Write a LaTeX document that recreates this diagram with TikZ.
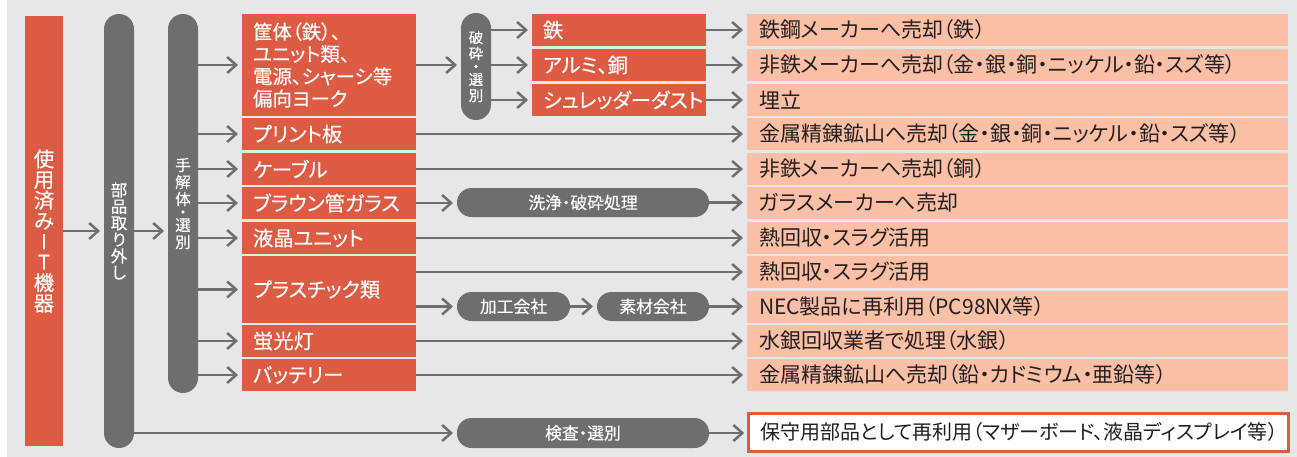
\documentclass[tikz,border=0pt]{standalone}
\usepackage{fontspec}
\setmainfont{Noto Sans CJK JP}[RawFeature=+palt]
\newfontfamily\medfont{Noto Sans CJK JP}[RawFeature=+palt, FakeBold=0.35]
\usetikzlibrary{arrows.meta}
\definecolor{bgc}{HTML}{E6E7E8}
\definecolor{rboxc}{HTML}{DE5B43}
\definecolor{pboxc}{HTML}{FBBFA5}
\definecolor{gpillc}{HTML}{6D6E71}
\definecolor{dtextc}{HTML}{231F20}
\begin{document}
\begin{tikzpicture}[x=1pt,y=-1pt,
  redbox/.style={fill=rboxc, text=white, anchor=north west, inner xsep=11pt, inner ysep=0pt, outer sep=0pt, text width=152pt, align=left, minimum height=32pt, font=\medfont\fontsize{20.3}{22.3}\selectfont},
  peachbox/.style={fill=pboxc, text=dtextc, anchor=north west, inner xsep=12pt, inner ysep=0pt, outer sep=0pt, text width=517pt, align=left, minimum height=32pt, font=\fontsize{21}{22}\selectfont},
  vpill/.style={fill=gpillc, text=white, anchor=north west, rounded corners=15pt, minimum width=30pt, inner sep=0pt, outer sep=0pt, align=center},
  hpill/.style={fill=gpillc, text=white, anchor=north west, rounded corners=14.5pt, minimum height=29pt, inner sep=0pt, outer sep=0pt, font=\medfont\fontsize{16.8}{18}\selectfont},
  arr/.style={draw=gpillc, line width=2.5pt, -{Straight Barb[length=9pt,width=16pt]}, shorten >=4pt},
]
\useasboundingbox (0,0) rectangle (1297,457);
\fill[white] (0,0) rectangle (1297,457);
\fill[bgc] (7,0) rectangle (1297,457);

% left column
\node[fill=rboxc, text=white, anchor=north west, minimum width=38pt, minimum height=430pt, inner sep=0pt, outer sep=0pt, align=center, font=\medfont\fontsize{20.5}{20.6}\selectfont] (it) at (25,16) {使\\用\\済\\み\\I\\T\\機\\器};
\node[vpill, minimum height=434pt, font=\medfont\fontsize{16.5}{16.5}\selectfont] (p2) at (104,14) {部\\品\\取\\り\\外\\し};
\node[vpill, minimum height=379pt, font=\medfont\fontsize{15.5}{17}\selectfont] (p3) at (168,14) {手\\解\\体\\[-4pt]・\\[-4pt]選\\別};

% red boxes
\node[redbox, minimum height=102pt, font=\medfont\fontsize{19.5}{22.3}\selectfont] (kyou) at (242,14) {筐体（鉄）、\\ユニット類、\\電源、シャーシ等\\偏向ヨーク};
\node[redbox] (print) at (242,118) {プリント板};
\node[redbox] (cable) at (242,153) {ケーブル};
\node[redbox] (braun) at (242,187) {ブラウン管ガラス};
\node[redbox] (lcd) at (242,222) {液晶ユニット};
\node[redbox, minimum height=67pt] (plastic) at (242,256) {プラスチック類};
\node[redbox] (fluor) at (242,325) {蛍光灯};
\node[redbox] (battery) at (242,359) {バッテリー};

% crushing
\node[vpill, minimum height=107pt, font=\medfont\fontsize{14.5}{16}\selectfont] (crush) at (461,13) {破\\砕\\[-3pt]・\\[-3pt]選\\別};
\node[redbox] (tetsu) at (532,14) {鉄};
\node[redbox] (alumi) at (532,49) {アルミ、銅};
\node[redbox] (shred) at (532,84) {シュレッダーダスト};

% intermediate pills
\node[hpill, minimum width=252pt] (wash) at (457,188) {洗浄・破砕処理};
\node[hpill, minimum width=113pt] (kakou) at (457,292) {加工会社};
\node[hpill, minimum width=112pt] (sozai) at (597,292) {素材会社};
\node[hpill, minimum width=252pt, minimum height=30pt] (kensa) at (457,418) {検査・選別};

% outputs
\node[peachbox] (o1) at (747,14) {鉄鋼メーカーへ売却（鉄）};
\node[peachbox] (o2) at (747,49) {非鉄メーカーへ売却（金・銀・銅・ニッケル・鉛・スズ等）};
\node[peachbox] (o3) at (747,84) {埋立};
\node[peachbox] (o4) at (747,118) {金属精錬鉱山へ売却（金・銀・銅・ニッケル・鉛・スズ等）};
\node[peachbox] (o5) at (747,153) {非鉄メーカーへ売却（銅）};
\node[peachbox] (o6) at (747,187) {ガラスメーカーへ売却};
\node[peachbox] (o7) at (747,222) {熱回収・スラグ活用};
\node[peachbox] (o8) at (747,256) {熱回収・スラグ活用};
\node[peachbox] (o9) at (747,291) {NEC製品に再利用（PC98NX等）};
\node[peachbox] (o10) at (747,325) {水銀回収業者で処理（水銀）};
\node[peachbox] (o11) at (747,359) {金属精錬鉱山へ売却（鉛・カドミウム・亜鉛等）};
\node[peachbox, fill=white, draw=rboxc, line width=2.5pt, text width=516pt, minimum height=38pt, font=\fontsize{20}{22}\selectfont] (reuse) at (748.25,413.25) {保守用部品として再利用（マザーボード、液晶ディスプレイ等）};

% connectors
\draw[arr] (it.east) -- (it.east -| p2.west);
\draw[arr] (it.east -| p2.east) -- (it.east -| p3.west);
\foreach \b in {kyou,print,cable,braun,lcd,plastic,fluor,battery}
  \draw[arr] (p3.east |- \b.west) -- (\b.west);
\draw[arr] (kyou.east) -- (kyou.east -| crush.west);
\foreach \b in {tetsu,alumi,shred}
  \draw[arr] (crush.east |- \b.west) -- (\b.west);
\draw[arr] (tetsu.east) -- (tetsu.east -| o1.west);
\draw[arr] (alumi.east) -- (alumi.east -| o2.west);
\draw[arr] (shred.east) -- (shred.east -| o3.west);
\draw[arr] (print.east) -- (print.east -| o4.west);
\draw[arr] (cable.east) -- (cable.east -| o5.west);
\draw[arr] (braun.east) -- (braun.east -| wash.west);
\draw[arr] (wash.east) -- (wash.east -| o6.west);
\draw[arr] (lcd.east) -- (lcd.east -| o7.west);
\draw[arr] (plastic.east |- o8.west) -- (o8.west);
\draw[arr] (plastic.east |- kakou.west) -- (kakou.west);
\draw[arr] (kakou.east) -- (kakou.east -| sozai.west);
\draw[arr] (sozai.east) -- (sozai.east -| o9.west);
\draw[arr] (fluor.east) -- (fluor.east -| o10.west);
\draw[arr] (battery.east) -- (battery.east -| o11.west);
\draw[arr] (p2.east |- kensa.west) -- (kensa.west);
\draw[arr] (kensa.east) -- (kensa.east -| reuse.west);
\end{tikzpicture}
\end{document}
